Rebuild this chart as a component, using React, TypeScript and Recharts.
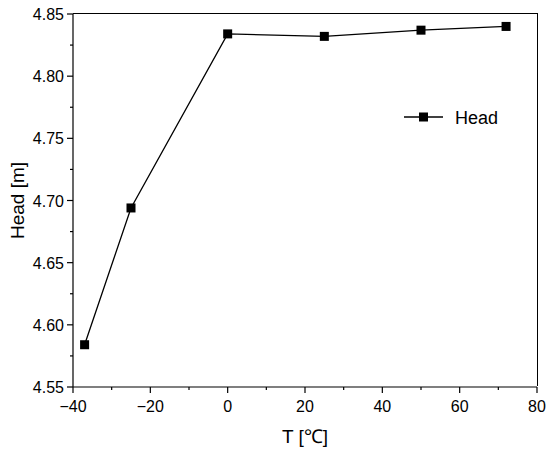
import React from 'react';
import { LineChart, Line, XAxis, YAxis, Legend } from 'recharts';

// temperature [°C] and pump head [m]
const temps = [-37, -25, 0, 25, 50, 72];
const heads = [4.584, 4.694, 4.834, 4.832, 4.837, 4.84];

const xTicks = [-40, -30, -20, -10, 0, 10, 20, 30, 40, 50, 60, 70, 80];
const xMajor = [-40, -20, 0, 20, 40, 60, 80];
const yTicks = [4.55, 4.575, 4.6, 4.625, 4.65, 4.675, 4.7, 4.725, 4.75, 4.775, 4.8, 4.825, 4.85];
const yMajor = [4.55, 4.6, 4.65, 4.7, 4.75, 4.8, 4.85];

const data = temps.map((t, i) => ({ t, head: heads[i] }));

const FONT = '"Liberation Sans", Arial, sans-serif';

const W = 550;
const H = 452;
const MARGIN = { top: 14, right: 13, left: 0, bottom: 0 };
const Y_AXIS_W = 73;
const X_AXIS_H = 65;
const PLOT_W = W - MARGIN.left - MARGIN.right - Y_AXIS_W;
const PLOT_H = H - MARGIN.top - MARGIN.bottom - X_AXIS_H;

const near = (a: number, b: number) => Math.abs(a - b) < 1e-6;
const isMajor = (list: number[], v: number) => list.some((m) => near(m, v));

const XTick = (props: any) => {
  const { x, y, payload } = props;
  const v = Number(payload.value);
  const major = isMajor(xMajor, v);
  return (
    <g>
      <line x1={x} x2={x} y1={y} y2={y + (major ? 6 : 3)} stroke="#000" strokeWidth={1.2} />
      {major && (
        <text x={x} y={y + 25} textAnchor="middle" fontSize={16} fontFamily={FONT} fill="#000">
          {v < 0 ? '\u2212' + Math.abs(v) : v}
        </text>
      )}
    </g>
  );
};

const YTick = (props: any) => {
  const { x, y, payload } = props;
  const v = Number(payload.value);
  const major = isMajor(yMajor, v);
  return (
    <g>
      <line x1={x} x2={x - (major ? 6 : 3)} y1={y} y2={y} stroke="#000" strokeWidth={1.2} />
      {major && (
        <text x={x - 9} y={y + 6} textAnchor="end" fontSize={16} fontFamily={FONT} fill="#000">
          {v.toFixed(2)}
        </text>
      )}
    </g>
  );
};

const Square = (props: any) => {
  const { cx, cy } = props;
  if (cx == null || cy == null) return null;
  return <rect x={cx - 4.5} y={cy - 4.5} width={9} height={9} fill="#000" />;
};

const renderLegend = (props: any) => {
  const { payload } = props;
  return (
    <div>
      {payload.map((entry: any) => (
        <svg key={entry.value} width={110} height={26} style={{ display: 'block' }}>
          <line x1={0} x2={39} y1={13} y2={13} stroke="#000" strokeWidth={1.3} />
          <rect x={15} y={8.5} width={9} height={9} fill="#000" />
          <text x={51} y={19.5} fontSize={18} fontFamily={FONT} fill="#000">
            {entry.value}
          </text>
        </svg>
      ))}
    </div>
  );
};

export default function App() {
  return (
    <div style={{ position: 'absolute', left: 0, top: 0, width: W, height: H, background: '#fff' }}>
      <LineChart width={W} height={H} data={data} margin={MARGIN}>
        <XAxis
          dataKey="t"
          type="number"
          domain={[-40, 80]}
          ticks={xTicks}
          interval={0}
          tickSize={0}
          tickMargin={0}
          tick={<XTick />}
          height={X_AXIS_H}
          axisLine={{ stroke: '#000', strokeWidth: 1.2 }}
          label={{
            value: 'T [\u2103]',
            position: 'insideBottom',
            offset: 9,
            style: { fontSize: 19, fontFamily: FONT, fill: '#000' },
          }}
        />
        <YAxis
          dataKey="head"
          type="number"
          domain={[4.55, 4.85]}
          ticks={yTicks}
          interval={0}
          tickSize={0}
          tickMargin={0}
          tick={<YTick />}
          width={Y_AXIS_W}
          axisLine={{ stroke: '#000', strokeWidth: 1.2 }}
          label={{
            value: 'Head [m]',
            angle: -90,
            position: 'insideLeft',
            offset: 17,
            style: { fontSize: 19, fontFamily: FONT, fill: '#000', textAnchor: 'middle' },
          }}
        />
        <Legend
          layout="horizontal"
          verticalAlign="middle"
          align="center"
          content={renderLegend}
          wrapperStyle={{ left: 404, top: 104, width: 110, height: 26 }}
        />
        <Line
          dataKey="head"
          name="Head"
          stroke="#000"
          strokeWidth={1.3}
          dot={<Square />}
          activeDot={false}
          isAnimationActive={false}
        />
      </LineChart>
      {/* top and right borders of the plot frame */}
      <div
        style={{
          position: 'absolute',
          left: MARGIN.left + Y_AXIS_W,
          top: MARGIN.top - 0.6,
          width: PLOT_W + 0.6,
          height: PLOT_H,
          borderTop: '1.2px solid #000',
          borderRight: '1.2px solid #000',
          boxSizing: 'border-box',
          pointerEvents: 'none',
        }}
      />
    </div>
  );
}
